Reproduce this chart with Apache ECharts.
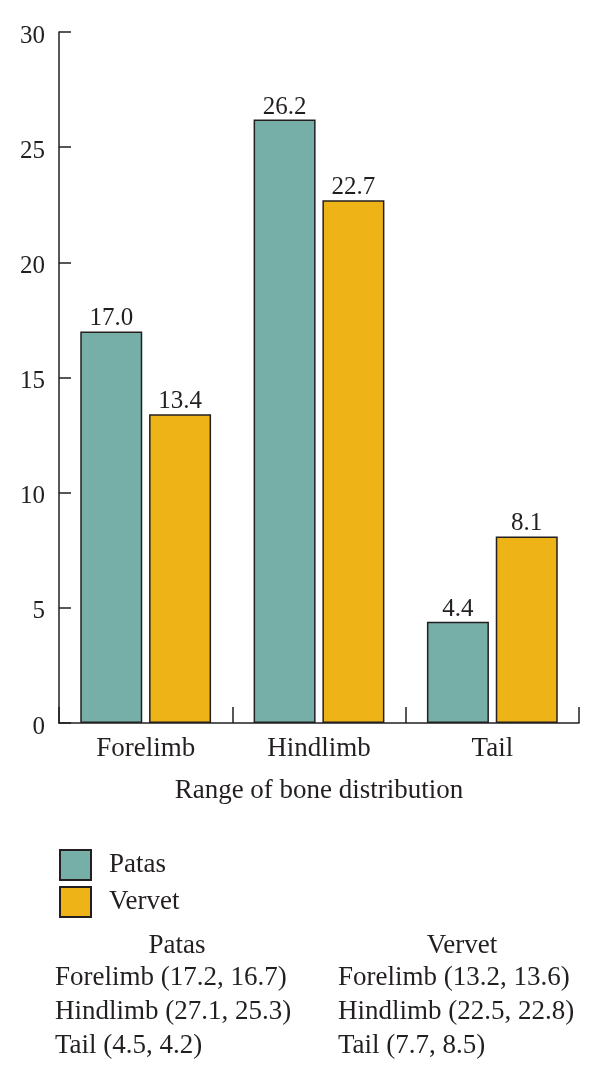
<!DOCTYPE html>
<html>
<head>
<meta charset="utf-8">
<script src="https://cdn.jsdelivr.net/npm/echarts@6/dist/echarts.min.js"></script>
<style>
html,body{margin:0;padding:0;background:#fff;}
#main{width:600px;height:1088px;}
</style>
</head>
<body>
<div id="main"></div>
<script>
var categories = ['Forelimb', 'Hindlimb', 'Tail'];
var seriesNames = ['Patas', 'Vervet'];
var patasValues = [17.0, 26.2, 4.4];
var vervetValues = [13.4, 22.7, 8.1];
// ranges printed under the legend
var patasRanges = [[17.2, 16.7], [27.1, 25.3], [4.5, 4.2]];
var vervetRanges = [[13.2, 13.6], [22.5, 22.8], [7.7, 8.5]];
var yTicks = [0, 5, 10, 15, 20, 25, 30];

var FONT = '"Liberation Serif", "Times New Roman", serif';
var INK = '#231f20';
var colors = ['#76afa8', '#eeb317'];

var myChart = echarts.init(document.getElementById('main'));

function rangeText(cat, r){
	return cat + ' (' + r[0].toFixed(1) + ', ' + r[1].toFixed(1) + ')';
}

function makeTable(){
	var els = [];
	var font = '27px ' + FONT;
	els.push({type:'text', x:177, y:946, style:{text:seriesNames[0], font:font, fill:INK, align:'center', verticalAlign:'middle'}});
	els.push({type:'text', x:462, y:946, style:{text:seriesNames[1], font:font, fill:INK, align:'center', verticalAlign:'middle'}});
	for (var i = 0; i < categories.length; i++) {
		var y = 978 + i * 34;
		els.push({type:'text', x:55, y:y, style:{text:rangeText(categories[i], patasRanges[i]), font:font, fill:INK, align:'left', verticalAlign:'middle'}});
		els.push({type:'text', x:338, y:y, style:{text:rangeText(categories[i], vervetRanges[i]), font:font, fill:INK, align:'left', verticalAlign:'middle'}});
	}
	return els;
}

function makeSeries(){
	var data = [patasValues, vervetValues];
	var series = [];
	for (var i = 0; i < data.length; i++) {
		series.push({
			name: seriesNames[i],
			type: 'bar',
			barWidth: 62,
			barGap: '11%',
			data: data[i],
			itemStyle: {color: colors[i], borderColor: INK, borderWidth: 1.5},
			label: {
				show: true,
				position: 'top',
				distance: 0,
				formatter: function(p){ return p.value.toFixed(1); },
				color: INK,
				fontFamily: FONT,
				fontSize: 25
			},
			emphasis: {disabled: true}
		});
	}
	return series;
}

var option = {
	animation: false,
	textStyle: {fontFamily: FONT},
	grid: {left: 59, right: 21, top: 32, bottom: 365, containLabel: false},
	legend: {
		data: seriesNames,
		orient: 'vertical',
		left: 59,
		top: 849,
		padding: 0,
		itemWidth: 31,
		itemHeight: 30,
		itemGap: 5,
		icon: 'rect',
		selectedMode: false,
		textStyle: {color: INK, fontFamily: FONT, fontSize: 27, padding: [0, 0, 0, 13]}
	},
	xAxis: {
		type: 'category',
		data: categories,
		name: 'Range of bone distribution',
		nameLocation: 'middle',
		nameGap: 54,
		nameTextStyle: {color: INK, fontFamily: FONT, fontSize: 27},
		axisLine: {lineStyle: {color: INK, width: 1.5}},
		axisTick: {show: true, inside: true, length: 16, lineStyle: {color: INK, width: 1.5}},
		axisLabel: {color: INK, fontFamily: FONT, fontSize: 27, margin: 12}
	},
	yAxis: {
		type: 'value',
		min: yTicks[0],
		max: yTicks[yTicks.length - 1],
		interval: 5,
		splitLine: {show: false},
		axisLine: {show: true, lineStyle: {color: INK, width: 1.5}},
		axisTick: {show: true, inside: true, length: 12, lineStyle: {color: INK, width: 1.5}},
		axisLabel: {
			color: INK, fontFamily: FONT, fontSize: 25, margin: 14,
			formatter: '{v|{value}}',
			rich: {v: {fontFamily: FONT, fontSize: 25, color: INK, padding: [8, 0, 0, 0]}}
		}
	},
	graphic: makeTable(),
	series: makeSeries()
};

myChart.setOption(option);
</script>
</body>
</html>
